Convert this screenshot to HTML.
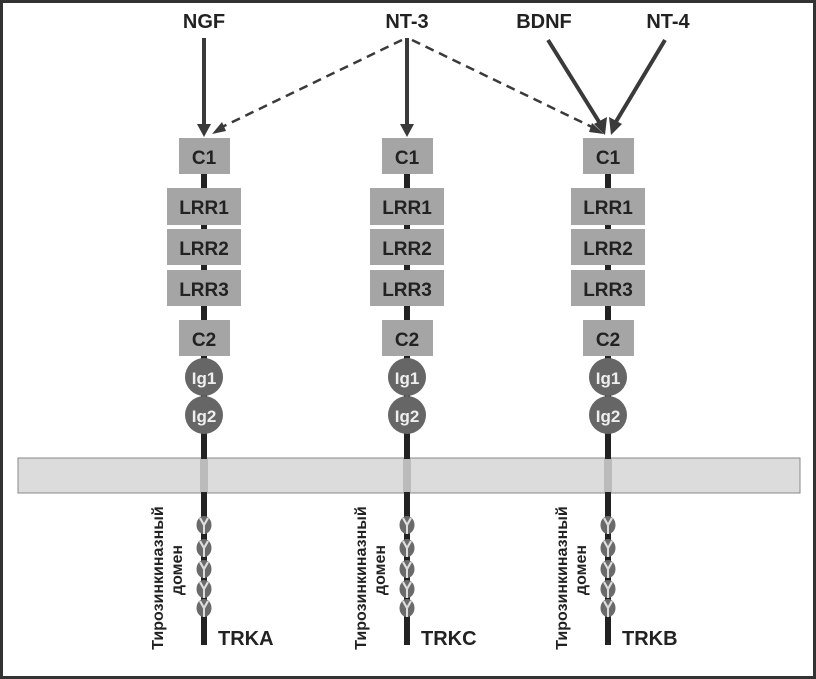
<!DOCTYPE html>
<html><head><meta charset="utf-8"><style>
html,body{margin:0;padding:0;background:#fff;overflow:hidden}
svg{display:block}
text{font-family:"Liberation Sans",sans-serif;font-weight:bold}
</style></head><body>
<svg width="816" height="679" viewBox="0 0 816 679" xmlns="http://www.w3.org/2000/svg">
<defs>
<g id="y">
<ellipse cx="0" cy="0" rx="7.5" ry="9" fill="#6a6a6a"/>
<path d="M-4,-7 L0,0 L4,-7" stroke="#ddd" stroke-width="2.2" fill="none"/>
<line x1="0" y1="0" x2="0" y2="9" stroke="#ddd" stroke-width="2"/>
</g>
<g id="rec">
<line x1="0" y1="140" x2="0" y2="645" stroke="#222" stroke-width="6"/>
<rect x="-25" y="138" width="51" height="36" fill="#a5a5a5"/>
<text x="0" y="164" font-size="19" text-anchor="middle" fill="#222">C1</text>
<rect x="-37" y="188" width="74" height="37" fill="#a5a5a5"/>
<text x="0" y="214" font-size="19" text-anchor="middle" fill="#222">LRR1</text>
<rect x="-37" y="229" width="74" height="36" fill="#a5a5a5"/>
<text x="0" y="255" font-size="19" text-anchor="middle" fill="#222">LRR2</text>
<rect x="-37" y="270" width="74" height="36" fill="#a5a5a5"/>
<text x="0" y="296" font-size="19" text-anchor="middle" fill="#222">LRR3</text>
<rect x="-25" y="320" width="51" height="36" fill="#a5a5a5"/>
<text x="0" y="346" font-size="19" text-anchor="middle" fill="#222">C2</text>
<circle cx="0" cy="377" r="19" fill="#666"/>
<text x="0" y="384" font-size="17" text-anchor="middle" fill="#eee">Ig1</text>
<circle cx="0" cy="415" r="19" fill="#666"/>
<text x="0" y="422" font-size="17" text-anchor="middle" fill="#eee">Ig2</text>
<use href="#y" x="0" y="525"/>
<use href="#y" x="0" y="548"/>
<use href="#y" x="0" y="569"/>
<use href="#y" x="0" y="589"/>
<use href="#y" x="0" y="608"/>
<text transform="translate(-41,578) rotate(-90)" font-size="16" text-anchor="middle" fill="#222">Тирозинкиназный</text>
<text transform="translate(-22,570) rotate(-90)" font-size="16" text-anchor="middle" fill="#222">домен</text>
</g>
</defs>
<rect x="1.5" y="1.5" width="813" height="676" fill="#fff" stroke="#333" stroke-width="3"/>
<rect x="18" y="458" width="782" height="35" fill="#dcdcdc" stroke="#888" stroke-width="1"/>
<use href="#rec" x="204"/>
<use href="#rec" x="407"/>
<use href="#rec" x="608"/>
<rect x="200" y="459" width="8" height="33" fill="#bbb"/>
<rect x="403" y="459" width="8" height="33" fill="#bbb"/>
<rect x="604" y="459" width="8" height="33" fill="#bbb"/>
<text x="204" y="28" font-size="20" text-anchor="middle" fill="#222">NGF</text>
<text x="407" y="28" font-size="20" text-anchor="middle" fill="#222">NT-3</text>
<text x="544" y="28" font-size="20" text-anchor="middle" fill="#222">BDNF</text>
<text x="668" y="28" font-size="20" text-anchor="middle" fill="#222">NT-4</text>
<text x="218" y="645" font-size="20" fill="#222">TRKA</text>
<text x="421" y="645" font-size="20" fill="#222">TRKC</text>
<text x="622" y="645" font-size="20" fill="#222">TRKB</text>
<g stroke="#3a3a3a" stroke-width="4" fill="#3a3a3a">
<line x1="204" y1="38" x2="204" y2="126"/>
<polygon points="197,124 211,124 204,137" stroke="none"/>
<line x1="407" y1="38" x2="407" y2="126"/>
<polygon points="400,124 414,124 407,137" stroke="none"/>
<line x1="548" y1="40" x2="601" y2="125"/>
<polygon points="594,124 607,117 605,135" stroke="none"/>
<line x1="665" y1="40" x2="614" y2="125"/>
<polygon points="609,117 622,124 611,135" stroke="none"/>
</g>
<g stroke="#3a3a3a" stroke-width="2.5" stroke-dasharray="9,6" fill="none">
<line x1="402" y1="40" x2="222" y2="127"/>
<line x1="412" y1="40" x2="594" y2="128"/>
</g>
<polygon points="212,134 222,122 226,131" fill="#3a3a3a"/>
<polygon points="604,134 592,123 589,132" fill="#3a3a3a"/>
</svg>
</body></html>
